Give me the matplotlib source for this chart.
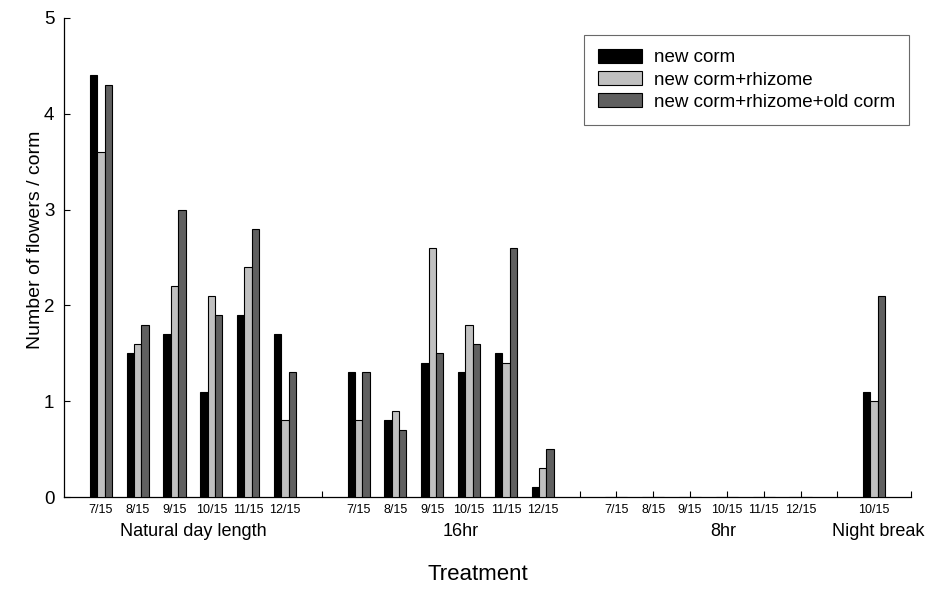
import numpy as np
import matplotlib
matplotlib.use("Agg")
import matplotlib.pyplot as plt

plt.rcParams['font.family'] = ['Liberation Sans', 'DejaVu Sans']

# dates sampled in each treatment
dates = ['7/15', '8/15', '9/15', '10/15', '11/15', '12/15']
groups = ['Natural day length', '16hr', '8hr', 'Night break']

# flowers per corm for each treatment, one value per date
natural_new = [4.4, 1.5, 1.7, 1.1, 1.9, 1.7]
natural_rhiz = [3.6, 1.6, 2.2, 2.1, 2.4, 0.8]
natural_old = [4.3, 1.8, 3.0, 1.9, 2.8, 1.3]

hr16_new = [1.3, 0.8, 1.4, 1.3, 1.5, 0.1]
hr16_rhiz = [0.8, 0.9, 2.6, 1.8, 1.4, 0.3]
hr16_old = [1.3, 0.7, 1.5, 1.6, 2.6, 0.5]

hr8_new = [0, 0, 0, 0, 0, 0]
hr8_rhiz = [0, 0, 0, 0, 0, 0]
hr8_old = [0, 0, 0, 0, 0, 0]

nb_dates = ['10/15']
nb_new = [1.1]
nb_rhiz = [1.0]
nb_old = [2.1]

series = ['new corm', 'new corm+rhizome', 'new corm+rhizome+old corm']
colors = ['#000000', '#c0c0c0', '#606060']

# slot layout: 6 dates, blank, 6 dates, blank, 6 dates, blank, night break, blank
pos_nat = np.arange(0, 6)
pos_16 = np.arange(7, 13)
pos_8 = np.arange(14, 20)
pos_nb = np.array([21])

fig = plt.figure(figsize=(9.3, 5.9), dpi=100)
ax = fig.add_axes([64 / 930, 1 - 497 / 590, (911 - 64) / 930, (497 - 18) / 590])

w = 0.2
offsets = [-w, 0, w]
blocks = [
    (pos_nat, [natural_new, natural_rhiz, natural_old]),
    (pos_16, [hr16_new, hr16_rhiz, hr16_old]),
    (pos_8, [hr8_new, hr8_rhiz, hr8_old]),
    (pos_nb, [nb_new, nb_rhiz, nb_old]),
]
for b, (pos, vals) in enumerate(blocks):
    for k in range(3):
        ax.bar(pos + offsets[k], vals[k], width=w, color=colors[k],
               edgecolor='black', linewidth=0.8,
               label=series[k] if b == 0 else None, zorder=3)

ax.set_xlim(-1, 22)
ax.set_ylim(0, 5)

# ticks on every slot, labels only where a date sits
all_pos = np.arange(0, 23)
labels = [''] * 23
for p, d in zip(pos_nat, dates):
    labels[p] = d
for p, d in zip(pos_16, dates):
    labels[p] = d
for p, d in zip(pos_8, dates):
    labels[p] = d
labels[pos_nb[0]] = nb_dates[0]
ax.set_xticks(all_pos)
ax.set_xticklabels(labels, fontsize=9)
ax.set_yticks(np.arange(0, 6))
ax.set_yticklabels([str(v) for v in range(6)], fontsize=13.5)
ax.tick_params(axis='both', direction='in', length=4, width=0.8, color='black')
ax.tick_params(axis='x', pad=5)
ax.tick_params(axis='y', pad=7)

for s in ['top', 'right']:
    ax.spines[s].set_visible(False)
for s in ['left', 'bottom']:
    ax.spines[s].set_linewidth(0.9)

# treatment names under each block
group_x = [2.5, 9.78, 16.9, 21.1]
for gx, g in zip(group_x, groups):
    ax.text(gx, -0.071, g, transform=ax.get_xaxis_transform(),
            ha='center', va='center', fontsize=13)

fig.text(478 / 930, 1 - 575 / 590, 'Treatment', ha='center', va='center', fontsize=16)
fig.text(36 / 930, 1 - 240 / 590, 'Number of flowers / corm', rotation=90,
         ha='center', va='center', fontsize=14)

leg = ax.legend(loc='upper right', bbox_to_anchor=(909 / 930, 1 - 35 / 590),
                bbox_transform=fig.transFigure, borderaxespad=0,
                fontsize=13.5, frameon=True, fancybox=False,
                handlelength=2.35, handleheight=0.75, handletextpad=0.6,
                labelspacing=0.25, borderpad=0.75)
leg.get_frame().set_edgecolor('#444444')
leg.get_frame().set_linewidth(0.8)

fig.savefig('out.png', dpi=100)
